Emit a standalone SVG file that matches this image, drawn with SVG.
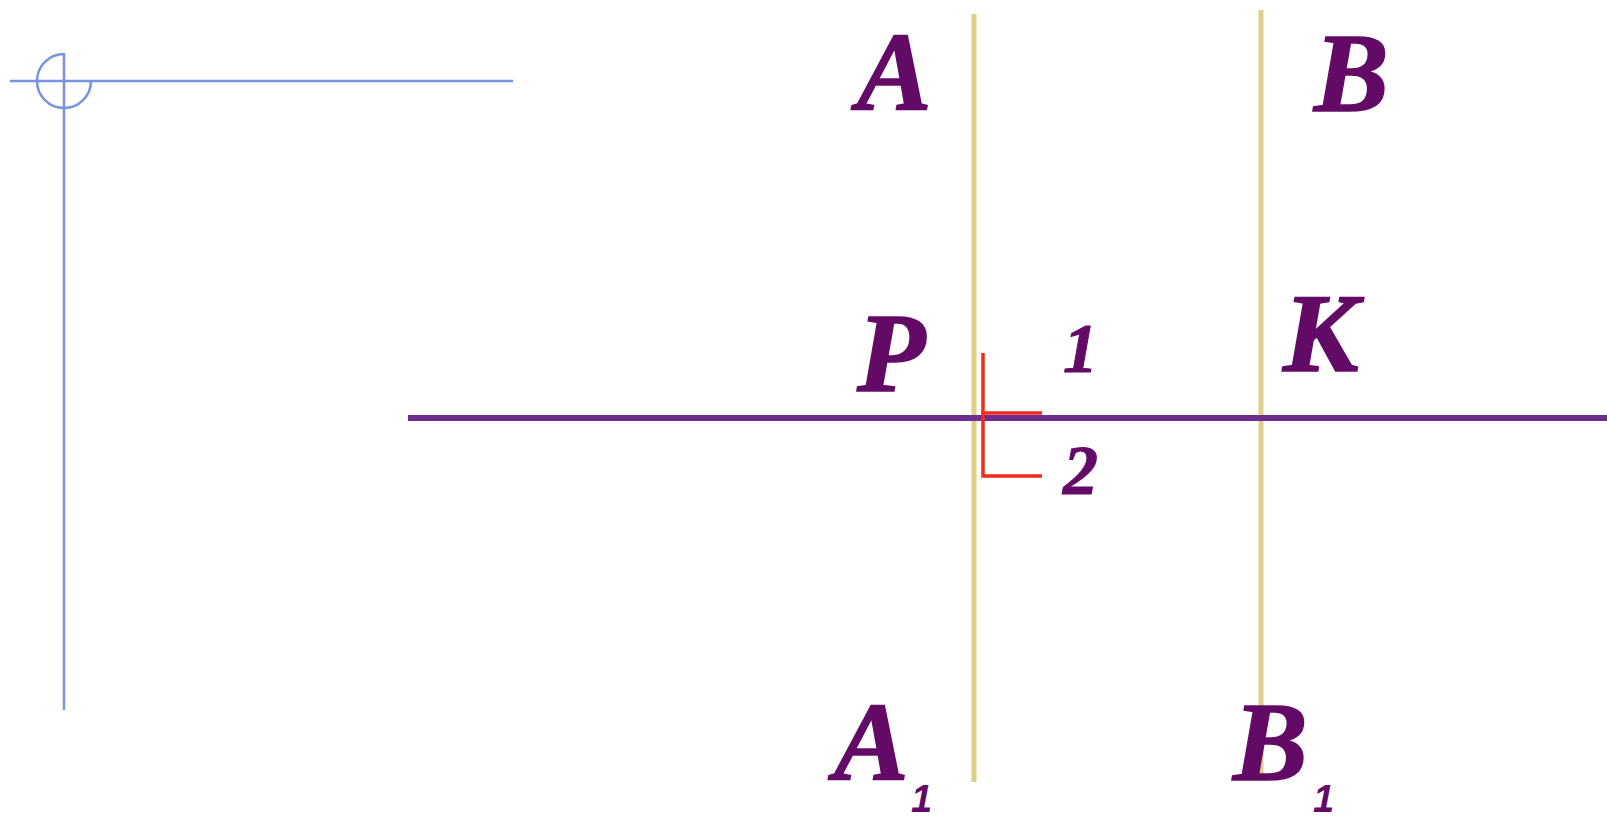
<svg xmlns="http://www.w3.org/2000/svg" width="1607" height="817" viewBox="0 0 1607 817">
<style>
.lbl{font-weight:bold;font-style:italic;font-size:112px;fill:#620A66;stroke:#620A66;stroke-width:1.5}
.num{font-weight:bold;font-style:italic;font-size:70px;fill:#620A66;stroke:#620A66;stroke-width:1}
.sub{font-weight:bold;font-style:italic;font-size:38px;fill:#620A66}
.blue{stroke:#7894E0;stroke-width:2.5;fill:none}
.yel{stroke:#E0CF88;stroke-width:5;fill:none}
.pur{stroke:#6E2C8E;stroke-width:6;fill:none}
.red{stroke:#F02A1E;stroke-width:3.5;fill:none}
</style>
<rect width="1607" height="817" fill="#ffffff"/>
<g id="axes">
<line class="blue" x1="10" y1="81" x2="513" y2="81"/>
<line class="blue" x1="64" y1="53" x2="64" y2="710"/>
<path class="blue" d="M64,54 A27,27 0 1,0 91,81"/>
</g>
<g id="connectors">
<line class="yel" x1="974" y1="14" x2="974" y2="782"/>
<line class="yel" x1="1261" y1="10" x2="1261" y2="778"/>
<line class="pur" x1="408" y1="418" x2="1607" y2="418"/>
<polyline class="red" points="983,353 983,413 1042,413"/>
<polyline class="red" points="983,413 983,476 1042,476"/>
</g>
<g font-family="Liberation Serif, Times New Roman, serif">
<g id="node-A"><text class="lbl" x="857" y="110">A</text></g>
<g id="node-B"><text class="lbl" x="1314" y="111">B</text></g>
<g id="node-P"><text class="lbl" x="857" y="391">P</text></g>
<g id="node-K"><text class="lbl" x="1283" y="371">К</text></g>
<g id="node-1"><text class="num" x="1063" y="372">1</text></g>
<g id="node-2"><text class="num" x="1063" y="494">2</text></g>
<g id="node-A1"><text class="lbl" x="834" y="780">A</text><text class="sub" font-family="Liberation Sans, Arial, sans-serif" x="911" y="812">1</text></g>
<g id="node-B1"><text class="lbl" x="1233" y="780">B</text><text class="sub" font-family="Liberation Sans, Arial, sans-serif" x="1313" y="812">1</text></g>
</g>
</svg>
